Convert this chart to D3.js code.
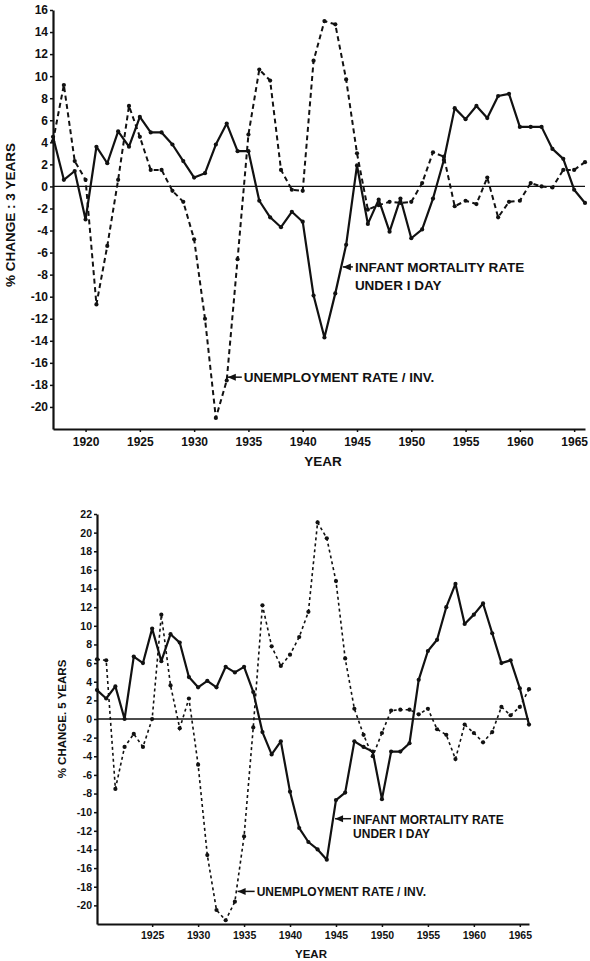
<!DOCTYPE html>
<html>
<head>
<meta charset="utf-8">
<script src="https://cdn.jsdelivr.net/npm/d3@7"></script>
<style>
  body { margin: 0; background: #fff; }
  svg text { font-family: "Liberation Sans", Arial, sans-serif; font-weight: bold; fill: #111; }
</style>
</head>
<body>
<div id="chart"></div>
<script>

//data: 3 year % change (top panel)
var yearsTop = [1917, 1918, 1919, 1920, 1921, 1922, 1923, 1924, 1925, 1926,
    1927, 1928, 1929, 1930, 1931, 1932, 1933, 1934, 1935, 1936,
    1937, 1938, 1939, 1940, 1941, 1942, 1943, 1944, 1945, 1946,
    1947, 1948, 1949, 1950, 1951, 1952, 1953, 1954, 1955, 1956,
    1957, 1958, 1959, 1960, 1961, 1962, 1963, 1964, 1965, 1966];
var infantTop = [4.5, 0.6, 1.4, -3.0, 3.6, 2.1, 5.0, 3.6, 6.3, 4.9,
    4.9, 3.8, 2.3, 0.8, 1.2, 3.8, 5.7, 3.2, 3.2, -1.3,
    -2.8, -3.7, -2.3, -3.2, -9.9, -13.7, -9.7, -5.3, 1.9, -3.4,
    -1.2, -4.1, -1.1, -4.7, -3.9, -1.1, 2.4, 7.1, 6.1, 7.3,
    6.2, 8.2, 8.4, 5.4, 5.4, 5.4, 3.4, 2.5, -0.3, -1.5];
var unempTop = [4.1, 9.2, 2.3, 0.6, -10.7, -5.4, 0.6, 7.3, 4.5, 1.5,
    1.5, -0.4, -1.4, -4.8, -12.0, -21.0, -17.6, -6.6, 4.7, 10.6,
    9.6, 1.5, -0.3, -0.4, 11.4, 15.0, 14.7, 9.7, 3.0, -2.1,
    -1.7, -1.4, -1.5, -1.4, 0.3, 3.1, 2.7, -1.8, -1.3, -1.6,
    0.8, -2.8, -1.4, -1.3, 0.3, 0.0, -0.1, 1.5, 1.5, 2.2];

//data: 5 year % change (bottom panel)
var yearsBottom = [1919, 1920, 1921, 1922, 1923, 1924, 1925, 1926,
    1927, 1928, 1929, 1930, 1931, 1932, 1933, 1934, 1935, 1936,
    1937, 1938, 1939, 1940, 1941, 1942, 1943, 1944, 1945, 1946,
    1947, 1948, 1949, 1950, 1951, 1952, 1953, 1954, 1955, 1956,
    1957, 1958, 1959, 1960, 1961, 1962, 1963, 1964, 1965, 1966];
var infantBottom = [3.1, 2.2, 3.5, 0.0, 6.7, 6.0, 9.7, 6.2,
    9.1, 8.2, 4.5, 3.4, 4.1, 3.4, 5.6, 5.0, 5.6, 2.9,
    -1.4, -3.8, -2.4, -7.8, -11.7, -13.2, -14.0, -15.1, -8.7, -7.9,
    -2.4, -3.0, -3.5, -8.6, -3.5, -3.5, -2.6, 4.2, 7.3, 8.5,
    12.0, 14.5, 10.2, 11.2, 12.4, 9.2, 6.0, 6.3, 3.3, -0.6];
var unempBottom = [6.4, 6.3, -7.5, -3.0, -1.6, -3.0, 0.0, 11.2,
    3.6, -1.0, 2.2, -4.9, -14.6, -20.5, -21.6, -19.6, -12.6, -0.9,
    12.2, 7.8, 5.7, 6.9, 8.8, 11.5, 21.1, 19.4, 14.8, 6.5,
    1.1, -1.7, -4.0, -1.5, 0.9, 1.0, 1.0, 0.5, 1.1, -1.1,
    -1.7, -4.3, -0.6, -1.5, -2.5, -1.4, 1.3, 0.4, 1.3, 3.2];

//tick labels
var yTicksTop = [16, 14, 12, 10, 8, 6, 4, 2, 0, -2, -4, -6, -8, -10, -12, -14, -16, -18, -20];
var yTicksBottom = [22, 20, 18, 16, 14, 12, 10, 8, 6, 4, 2, 0, -2, -4, -6, -8, -10, -12, -14, -16, -18, -20];
var xTicksTop = [1920, 1925, 1930, 1935, 1940, 1945, 1950, 1955, 1960, 1965];
var xTicksBottom = [1925, 1930, 1935, 1940, 1945, 1950, 1955, 1960, 1965];

const svg = d3.select("#chart")
    .append("svg")
    .attr("width", 590)
    .attr("height", 961);

function drawPanel(p) {
    var x = d3.scaleLinear().domain(p.xDomain).range(p.xRange);
    var y = d3.scaleLinear().domain(p.yDomain).range(p.yRange);
    var g = svg.append("g");

    //zero line
    g.append("line")
        .attr("x1", p.xRange[0])
        .attr("x2", p.xRange[1])
        .attr("y1", y(0))
        .attr("y2", y(0))
        .attr("stroke", "#111")
        .attr("stroke-width", 1.4);

    //axes
    var yAxis = g.append("g")
        .attr("transform", "translate(" + p.xRange[0] + ",0)")
        .call(d3.axisLeft(y).tickValues(p.yTicks).tickSize(3).tickSizeOuter(0).tickPadding(2)
            .tickFormat(function (d) { return String(d); }));
    var xAxis = g.append("g")
        .attr("transform", "translate(0," + p.yRange[0] + ")")
        .call(d3.axisBottom(x).tickValues(p.xTicks).tickSize(3).tickSizeOuter(0).tickPadding(5)
            .tickFormat(function (d) { return String(d); }));
    [yAxis, xAxis].forEach(function (a) {
        a.attr("font-family", null).attr("font-size", p.tickFont);
        a.select(".domain").attr("stroke", "#111").attr("stroke-width", 2.2);
        a.selectAll(".tick line").attr("stroke", "#111").attr("stroke-width", 1.5);
        a.selectAll(".tick text").attr("fill", "#111");
    });

    //series
    var line = d3.line()
        .x(function (d) { return x(d[0]); })
        .y(function (d) { return y(d[1]); });
    var unemp = d3.zip(p.years, p.unemp);
    var infant = d3.zip(p.years, p.infant);

    g.append("path")
        .datum(unemp)
        .attr("d", line)
        .attr("fill", "none")
        .attr("stroke", "#111")
        .attr("stroke-width", p.dashWidth)
        .attr("stroke-dasharray", p.dash);
    g.append("path")
        .datum(infant)
        .attr("d", line)
        .attr("fill", "none")
        .attr("stroke", "#111")
        .attr("stroke-width", 2.2)
        .attr("stroke-linejoin", "round");

    g.append("g").selectAll("circle")
        .data(unemp.concat(infant))
        .enter()
        .append("circle")
        .attr("cx", function (d) { return x(d[0]); })
        .attr("cy", function (d) { return y(d[1]); })
        .attr("r", 2.1)
        .attr("fill", "#111");

    //axis titles
    g.append("text")
        .attr("transform", "translate(" + p.yTitle[0] + "," + p.yTitle[1] + ") rotate(-90)")
        .attr("text-anchor", "middle")
        .attr("font-size", p.titleFont)
        .text(p.yLabel);
    g.append("text")
        .attr("x", p.xTitle[0])
        .attr("y", p.xTitle[1])
        .attr("text-anchor", "middle")
        .attr("font-size", p.titleFont)
        .text("YEAR");

    //arrow labels
    p.notes.forEach(function (n) {
        var tx = x(n.year), ty = y(n.value);
        g.append("line")
            .attr("x1", tx).attr("x2", tx + n.tail)
            .attr("y1", ty).attr("y2", ty)
            .attr("stroke", "#111").attr("stroke-width", 1.5);
        g.append("path")
            .attr("d", "M" + tx + "," + ty + "l8,-3.5v7z")
            .attr("fill", "#111");
        n.lines.forEach(function (t, i) {
            g.append("text")
                .attr("x", tx + n.tail + 2)
                .attr("y", ty + 5 + i * n.gap)
                .attr("font-size", p.noteFont)
                .text(t);
        });
    });
}

drawPanel({
    years: yearsTop, infant: infantTop, unemp: unempTop,
    xDomain: [1917, 1966], xRange: [53, 585],
    yDomain: [-22, 16], yRange: [429, 10],
    yTicks: yTicksTop, xTicks: xTicksTop,
    tickFont: 12, titleFont: 13.5, noteFont: 13.5,
    dash: "5,3.5", dashWidth: 2,
    yLabel: "% CHANGE : 3 YEARS", yTitle: [15, 215], xTitle: [323, 466],
    notes: [
        { year: 1943.7, value: -7.3, tail: 10, gap: 18, lines: ["INFANT MORTALITY RATE", "UNDER I DAY"] },
        { year: 1933.1, value: -17.3, tail: 14, gap: 18, lines: ["UNEMPLOYMENT RATE / INV."] }
    ]
});

drawPanel({
    years: yearsBottom, infant: infantBottom, unemp: unempBottom,
    xDomain: [1919, 1966], xRange: [97, 529],
    yDomain: [-22, 22], yRange: [924, 514],
    yTicks: yTicksBottom, xTicks: xTicksBottom,
    tickFont: 10.5, titleFont: 11.5, noteFont: 12,
    dash: "3,3", dashWidth: 1.6,
    yLabel: "% CHANGE. 5 YEARS", yTitle: [66, 719], xTitle: [311, 958],
    notes: [
        { year: 1944.9, value: -10.7, tail: 16, gap: 14, lines: ["INFANT MORTALITY RATE", "UNDER I DAY"] },
        { year: 1934.3, value: -18.5, tail: 17, gap: 14, lines: ["UNEMPLOYMENT RATE / INV."] }
    ]
});

</script>
</body>
</html>
